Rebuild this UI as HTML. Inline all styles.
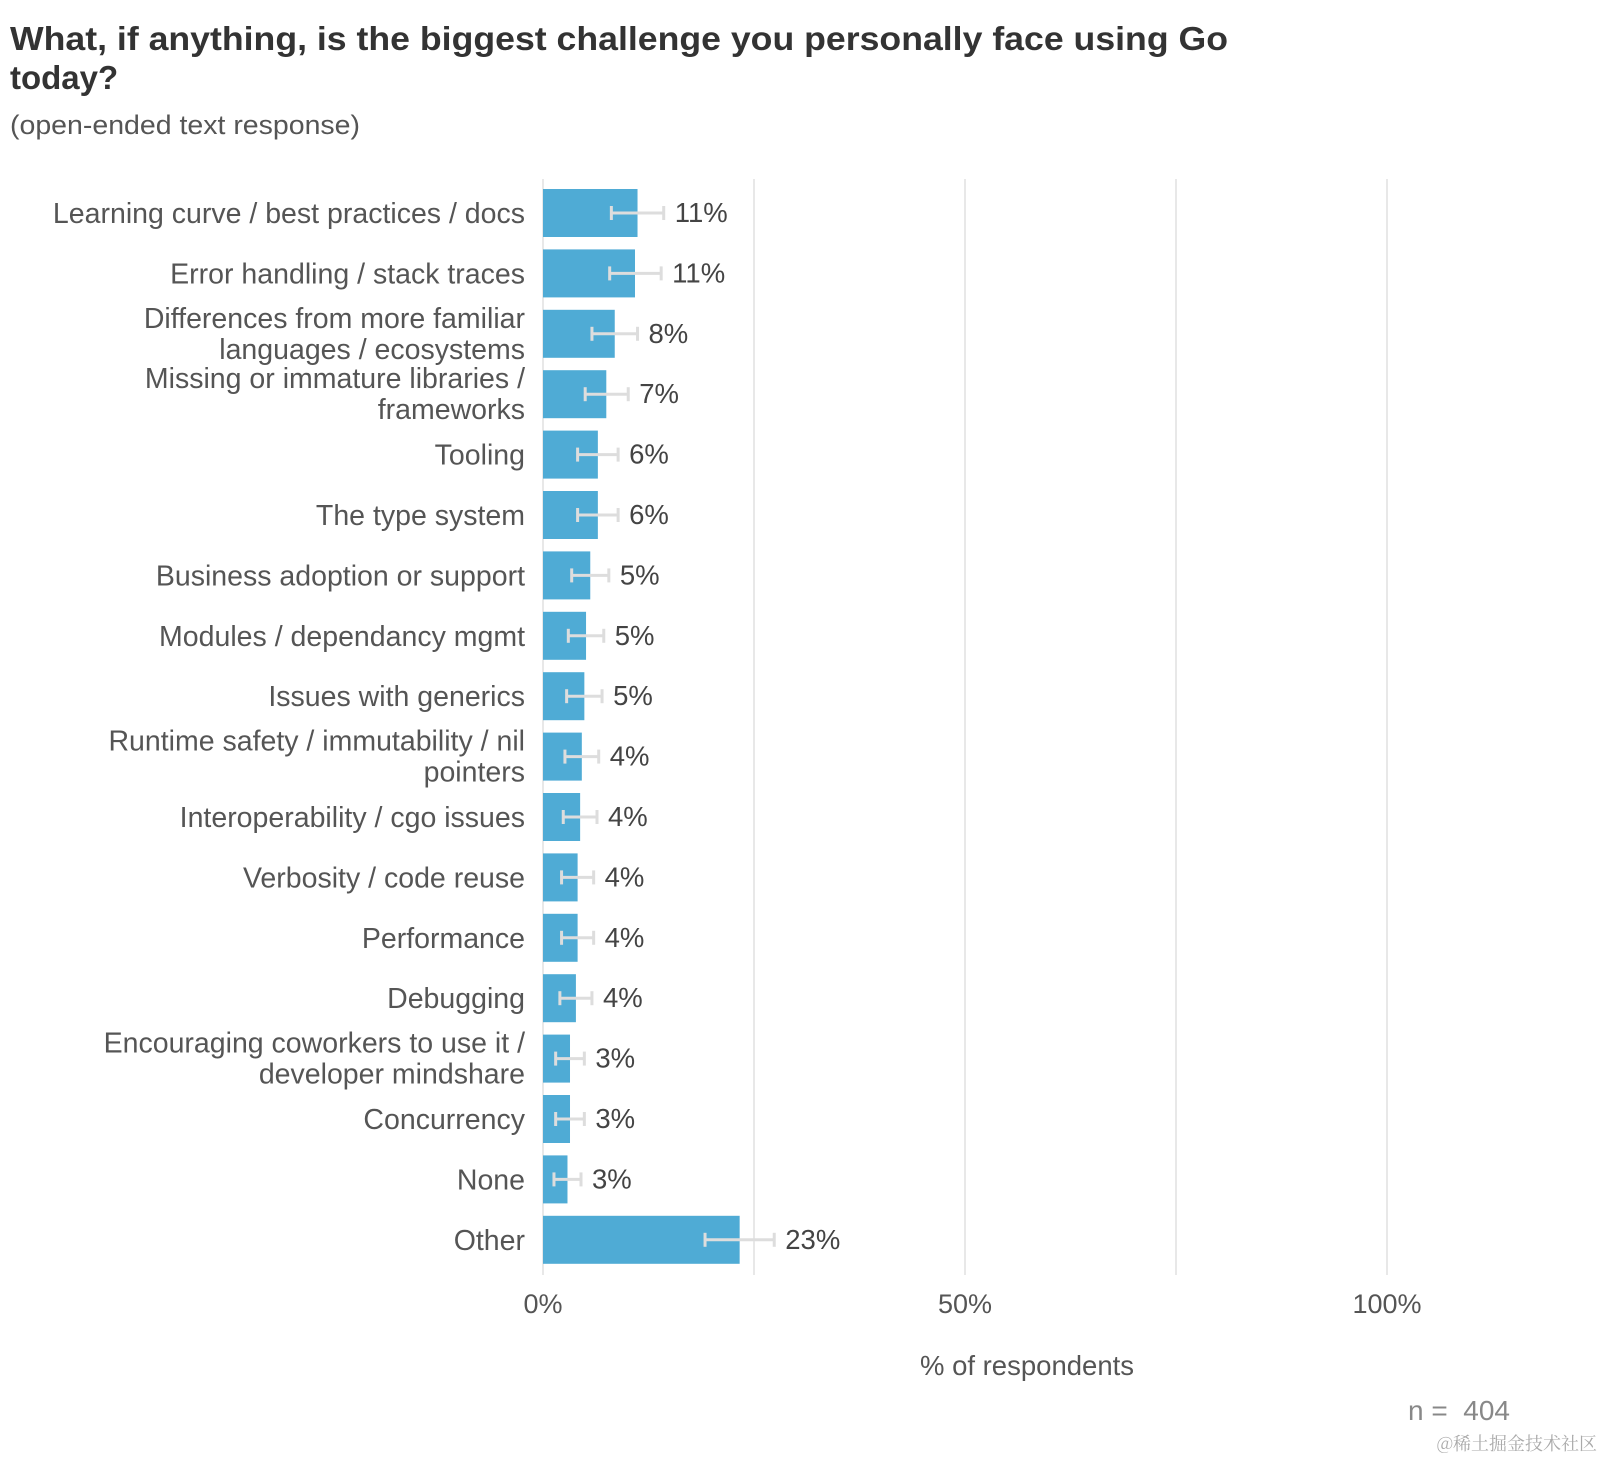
<!DOCTYPE html>
<html><head><meta charset="utf-8"><style>
body{margin:0;background:#fff;width:1602px;height:1460px;overflow:hidden;font-family:"Liberation Sans",Arial,sans-serif}
</style></head><body>
<svg width="1602" height="1460" xmlns="http://www.w3.org/2000/svg">
<text x="10" y="50" font-size="33" font-weight="bold" fill="#333" textLength="1218" lengthAdjust="spacingAndGlyphs">What, if anything, is the biggest challenge you personally face using Go</text>
<text x="10" y="89" font-size="33" font-weight="bold" fill="#333">today?</text>
<text x="10" y="134" font-size="27" fill="#555" textLength="350" lengthAdjust="spacingAndGlyphs">(open-ended text response)</text>
<g id="grid"></g><g id="bars"></g>
<text x="1027" y="1375" font-size="27.5" fill="#555" text-anchor="middle">% of respondents</text>
<text x="1510" y="1420" font-size="28" fill="#888" text-anchor="end">n =&#160; 404</text>
<text x="1597" y="1450" font-size="18" fill="#aaa" text-anchor="end" font-family="'Noto Serif CJK SC',serif">@稀土掘金技术社区</text>
</svg>
<script>
const categories=[["Learning curve / best practices / docs"],["Error handling / stack traces"],["Differences from more familiar","languages / ecosystems"],["Missing or immature libraries /","frameworks"],["Tooling"],["The type system"],["Business adoption or support"],["Modules / dependancy mgmt"],["Issues with generics"],["Runtime safety / immutability / nil","pointers"],["Interoperability / cgo issues"],["Verbosity / code reuse"],["Performance"],["Debugging"],["Encouraging coworkers to use it /","developer mindshare"],["Concurrency"],["None"],["Other"]];
const values=[11.2,10.9,8.5,7.5,6.5,6.5,5.6,5.1,4.9,4.6,4.4,4.1,4.1,3.9,3.2,3.2,2.9,23.3];
const lower=[8.1,7.9,5.8,5.0,4.1,4.1,3.4,3.0,2.8,2.6,2.4,2.2,2.2,2.0,1.5,1.5,1.3,19.2];
const upper=[14.3,14.0,11.2,10.1,8.9,8.9,7.8,7.2,7.0,6.6,6.4,6.0,6.0,5.8,4.9,4.9,4.5,27.4];
const labels=["11%","11%","8%","7%","6%","6%","5%","5%","5%","4%","4%","4%","4%","4%","3%","3%","3%","23%"];
const ticks=[0,25,50,75,100];
const tickLabels={0:"0%",50:"50%",100:"100%"};
const NS="http://www.w3.org/2000/svg";
const x=v=>543+v*8.44;
const y=i=>213+i*60.4;
function mk(t,a,p){const e=document.createElementNS(NS,t);for(const k in a)e.setAttribute(k,a[k]);p.appendChild(e);return e;}
const grid=document.getElementById('grid'),bars=document.getElementById('bars');
ticks.forEach(t=>{
 const l=mk('line',{x1:x(t),x2:x(t),y1:179,y2:1275,stroke:'#e8e8e8','stroke-width':2},grid);
 
 
 if(tickLabels[t]){const tx=mk('text',{x:x(t),y:1313,'font-size':27,fill:'#555','text-anchor':'middle'},grid);tx.textContent=tickLabels[t];
 
 }
});
values.forEach((v,i)=>{
 const cy=y(i);
 const r=mk('rect',{x:x(0),y:cy-24,width:x(v)-x(0),height:48,fill:'#4fabd5'},bars);
 
 
 const g=mk('g',{stroke:'#ddd','stroke-width':3},bars);
 
 
 mk('line',{x1:x(lower[i]),x2:x(upper[i]),y1:cy,y2:cy},g);
 mk('line',{x1:x(lower[i]),x2:x(lower[i]),y1:cy-7,y2:cy+7},g);
 mk('line',{x1:x(upper[i]),x2:x(upper[i]),y1:cy-7,y2:cy+7},g);
 const vl=mk('text',{x:x(upper[i])+11,y:cy+9,'font-size':27.5,fill:'#444'},bars);vl.textContent=labels[i];
 
 
 const lines=categories[i];
 lines.forEach((s,j)=>{
  const off=lines.length==1?10:(j==0?-6:25);
  const t=mk('text',{x:525,y:cy+off,'font-size':28.5,fill:'#555','text-anchor':'end'},bars);t.textContent=s;
  
  
 });
});
</script>
</body></html>
